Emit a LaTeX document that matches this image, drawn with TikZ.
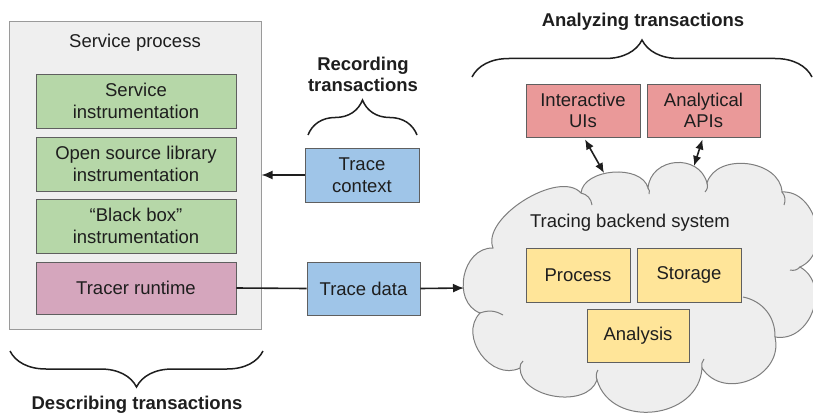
\documentclass[tikz,border=0pt]{standalone}
\usepackage{fontspec}
\setmainfont{Liberation Sans}
\usetikzlibrary{arrows.meta,decorations.pathreplacing,calc}

\definecolor{ink}{HTML}{1E1E1E}
\definecolor{edge}{HTML}{5F5F5F}
\definecolor{svcfill}{HTML}{EFEFEF}
\definecolor{svcline}{HTML}{9A9A9A}
\definecolor{instr}{HTML}{B6D7A8}
\definecolor{runtime}{HTML}{D5A6BD}
\definecolor{trace}{HTML}{9FC5E8}
\definecolor{consumer}{HTML}{EA9999}
\definecolor{backend}{HTML}{FFE599}
\definecolor{cloudfill}{HTML}{EEEEEE}
\definecolor{cloudline}{HTML}{7E7E7E}

\begin{document}
\begin{tikzpicture}[x=1pt,y=1pt,
  font=\fontsize{18.5}{21.5}\selectfont, text=ink,
  box/.style={draw=edge, line width=0.9pt, align=center, inner sep=0pt,
    minimum height=54pt},
  heading/.style={font=\fontsize{18.5}{21.5}\selectfont\bfseries, align=center},
  tip/.style={Latex[length=11pt,width=9pt]},
  arr/.style={draw=ink, line width=1.6pt, -{Latex[length=11pt,width=9pt]}},
  darr/.style={draw=ink, line width=1.6pt,
    {Latex[length=10pt,width=8.5pt]}-{Latex[length=10pt,width=8.5pt]}},
  brc/.style={draw=ink, line width=1.5pt, decorate,
    decoration={brace, amplitude=#1}},
  puff/.style={bend left=80, looseness=#1},
  crease/.style={draw=cloudline, line width=1pt},
]
\useasboundingbox (0,0) rectangle (813,416);

% service process container
\node[draw=svcline, fill=svcfill, line width=1pt, minimum width=252pt,
      minimum height=307pt, inner sep=0pt] (svc) at (135,240.5) {};
\node (svctitle) at (135,373) {Service process};
\node[box, fill=instr, minimum width=200pt] (si) at (136,315) {Service\\instrumentation};
\node[box, fill=instr, minimum width=200pt] (osl) at (136,252) {Open source library\\instrumentation};
\node[box, fill=instr, minimum width=200pt] (bb) at (136,190) {“Black box”\\instrumentation};
\node[box, fill=runtime, minimum width=200pt, minimum height=52pt] (tr) at (136,128) {Tracer runtime};

% recording
\node[box, fill=trace, minimum width=114pt] (tctx) at (362,241) {Trace\\context};
\node[box, fill=trace, minimum width=113pt, minimum height=53pt] (tdata) at (363.5,127.5) {Trace data};

% tracing backend cloud: puffs between the creases v1..v11, clockwise
\coordinate (v1) at (493,168);
\coordinate (v2) at (581,223);
\coordinate (v3) at (648,228);
\coordinate (v4) at (707,233);
\coordinate (v5) at (782,224);
\coordinate (v6) at (800,149);
\coordinate (v7) at (775,79);
\coordinate (v8) at (702,48);
\coordinate (v9) at (597,36);
\coordinate (v10) at (520,48);
\coordinate (v11) at (480,103);
\path[draw=cloudline, fill=cloudfill, line width=1pt]
  (v1) to[puff=0.8] (v2)
       to[puff=0.95] (v3)
       to[puff=1.35] (v4)
       to[puff=1.1] (v5)
       to[puff=1.15] (v6)
       to[puff=1.25] (v7)
       to[puff=1.3] (v8)
       to[puff=1.25] (v9)
       to[puff=1.0] (v10)
       to[puff=1.2] (v11)
       to[puff=1.2] (v1) -- cycle;
% short inner creases where the puffs overlap
\draw[crease] (v2) to[bend left=35] (592,211);
\draw[crease] (v3) to[bend left=30] (649,222);
\draw[crease] (v4) to[bend left=30] (705,224);
\draw[crease] (v5) to[bend left=30] (784,211);
\draw[crease] (v6) to[bend left=30] (790,146);
\draw[crease] (v7) to[bend right=40] (743,119);
\draw[crease] (v8) to[bend left=25] (704,57);
\draw[crease] (v9) to[bend left=25] (598,46);
\draw[crease] (v10) to[bend left=25] (523,55);
\draw[crease] (v11) to[bend left=25] (503,101);

\node (tbs) at (630,193) {Tracing backend system};
\node[box, fill=backend, minimum width=104pt] (proc) at (578,141) {Process};
\node[box, fill=backend, minimum width=104pt] (stor) at (689,141) {Storage};
\node[box, fill=backend, minimum width=102pt, minimum height=53pt] (anl) at (638,80.5) {Analysis};

% consumers
\node[box, fill=consumer, minimum width=114pt, minimum height=53pt] (ui) at (583,305.5) {Interactive\\UIs};
\node[box, fill=consumer, minimum width=113pt, minimum height=53pt] (api) at (703.5,305.5) {Analytical\\APIs};

% connection points on the cloud outline
\coordinate (cin) at (464,128);
\coordinate (cui) at (604,243);
\coordinate (capi) at (694,250);

% connectors
\draw[arr] (tctx.west) -- (svc.east |- tctx.west);
\draw[draw=ink, line width=1.6pt] (tr.east) -- (tdata.west);
\draw[arr] (tdata.east) -- (cin);
\draw[darr] ([xshift=2pt,yshift=-2pt]ui.south) -- (cui);
\draw[darr] ([xshift=-1pt,yshift=-2pt]api.south) -- (capi);

% braces and headings
\draw[brc=36pt] (263,65) -- (10,65);
\node[heading] (desc) at (137,11) {Describing transactions};
\draw[brc=35pt] (308,281) -- (417,281);
\node[heading] (rec) at (363,341.5) {Recording\\transactions};
\draw[brc=37pt] (472,339) -- (812,339);
\node[heading] (ana) at (643,394) {Analyzing transactions};
\end{tikzpicture}
\end{document}
